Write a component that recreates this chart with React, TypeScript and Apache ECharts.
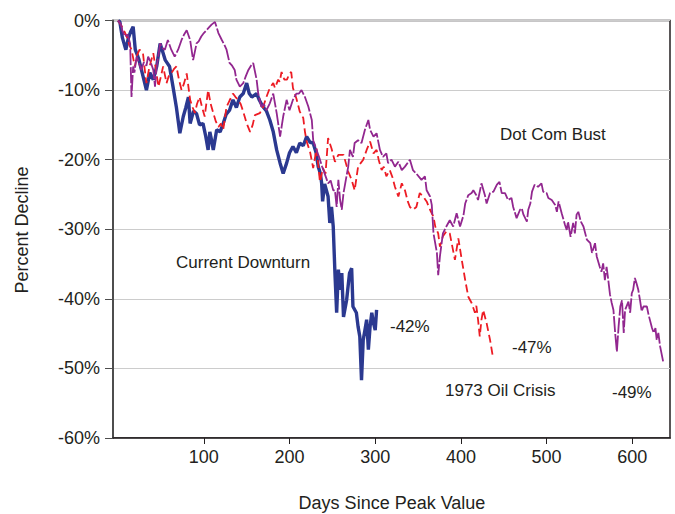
import React, { useEffect, useRef } from "react";
import * as echarts from "echarts";

// Days since peak (x) and percent decline (y)
const currentDownturn: [number, number][] = [
  [0, 0], [2, -0.2], [5, -2.5], [9, -4.2], [12, -2.5], [15, -1.5], [17.5, -0.9], [20, -4.2], [24, -5.5],
  [28, -7.5], [33, -10], [37, -7.5], [41, -8.5], [45, -6.6], [49, -3.3], [52, -4.5], [55, -5.7], [60, -6.6],
  [64, -9.5], [68, -12.5], [72, -16.2], [76, -13.8], [79, -12.5], [82, -11], [84, -14.8], [88, -13],
  [91.5, -13.4], [95, -15], [99, -14.8], [102, -16.5], [105, -18.6], [107, -16], [109, -17.2], [111, -18.6],
  [115, -15.7], [119, -16], [122.6, -14.8], [126, -13.5], [130, -12.9], [134, -11.4], [138, -12.5],
  [142, -11], [146, -10.5], [150, -9], [153, -10.5], [156, -11], [161.6, -10.5], [165, -11.5], [169, -12.4],
  [173, -13], [177, -14.3], [181, -16], [185, -18.6], [189, -20.5], [192.6, -22], [196.6, -20.5], [200, -19],
  [204, -18.1], [208, -19], [212, -17.6], [216, -18], [220, -16.7], [224, -17.5], [227.6, -17.6], [231, -19],
  [233.5, -21], [236, -22], [237.5, -23.4], [238.6, -26], [241, -23.5], [245, -25.3], [247, -29.1],
  [249, -26.8], [251, -29.6], [253, -36.3], [255, -42], [257, -35.8], [259, -38.7], [261, -36.3],
  [263, -42.6], [266.6, -40.2], [270, -36.3], [272.5, -35.6], [274, -41.1], [278, -42], [280, -44],
  [282, -45.4], [284, -51.7], [286, -45.9], [288, -44.5], [290, -43], [292, -47.3], [294, -44], [296, -42],
  [298, -43.5], [300, -44.5], [301.6, -41.6],
];

const oilCrisis1973: [number, number][] = [
  [0, 0], [4, -0.8], [7, -1.5], [10, -2.3], [13, -3.5], [15.6, -4.2], [19.5, -6.6], [22, -5], [25, -4.2],
  [29, -4.7], [31, -7], [33, -9], [36, -7], [38, -6], [41, -4.7], [44, -7], [47, -9.5], [50, -8], [52.5, -6.6],
  [56.5, -9], [59, -8], [62, -7.6], [65, -7], [68, -6.6], [71, -8.5], [74, -10], [77, -9], [80, -7.6],
  [84, -11.4], [87, -12.5], [89.5, -13.3], [92, -12], [95, -11], [98, -12.5], [101, -13.8], [105, -10],
  [108, -12], [111, -13.3], [114, -14.5], [117, -15.3], [120, -14.8], [122.6, -15.7], [126.5, -12.4],
  [130, -11.5], [134, -10.5], [137, -11], [140, -11.4], [143, -12], [146, -13.1], [150, -14.8], [154, -16],
  [157, -15], [159.6, -13.6], [165.4, -13.3], [169, -12.5], [173, -11], [177, -9.7], [181, -9],
  [183, -9.7], [186.8, -8.5], [188.5, -8.8], [190.7, -7.4], [194, -8.5], [197, -8.5], [200, -7.6],
  [202, -7.4], [204, -9.7], [208, -11.2], [212, -13.1], [216, -14], [218, -16], [220, -17.4], [224, -18.9],
  [227.6, -21.2], [231.6, -18.4], [235.5, -23.2], [239, -21.2], [242, -22], [245, -16.9], [249, -18.4],
  [253, -20.3], [257, -19.3], [263, -19.3], [268.5, -21.7], [272.5, -22.9], [276, -24.4], [280, -21],
  [283, -20.5], [286, -20], [290, -18.6], [294, -17.4], [298, -19.1], [301.6, -18.6], [304, -20],
  [307.5, -21.5], [310, -21], [313, -22.4], [317, -21.5], [320, -22.5], [323, -23.9], [327, -25.3],
  [331, -23.4], [334.7, -24.4], [338, -26], [340.5, -26.8], [344, -27.2], [348, -26.8], [352, -24.8],
  [356, -25.3], [360, -26], [364, -27.2], [368, -28.2], [370, -29.6], [373.5, -30.6], [375.5, -32.5],
  [379, -31], [383, -30.3], [387, -30.6], [390, -32.5], [393, -34.4], [397, -31.3], [401, -34.4],
  [405, -37.3], [408.6, -39.7], [412.5, -40.6], [416.4, -42], [418, -41], [420, -43], [422, -45.4],
  [424, -43], [426, -41.6], [430, -43.5], [434, -45.9], [437, -48.1],
];

const dotComBust: [number, number][] = [
  [0, 0], [3, -0.5], [5, -1.5], [8, -2.3], [11, -2], [14, -3.3], [15.6, -11], [17.5, -6.6], [19, -7.5],
  [21.5, -5.2], [24, -6], [27, -7.1], [30, -6], [33, -6.5], [35, -5.2], [38, -6], [41, -7.1], [43, -9.5],
  [45, -6.6], [47, -5], [49, -3.3], [52, -4], [54.5, -4.2], [58, -2.8], [62, -4.2], [66, -5.2], [70, -4.2],
  [74, -2.8], [77, -2], [80, -1.4], [84, -2.8], [87.5, -5.7], [91.5, -3.3], [94, -3], [97, -2.3],
  [100, -1.8], [103, -1.4], [106, -1], [109, -0.6], [113, -0.2], [117, -1.8], [121, -2.8], [124, -3.5],
  [126.5, -4.2], [130, -6.1], [133, -6.5], [136, -7.1], [138, -8.5], [142, -9.5], [146, -9], [149, -8],
  [152, -7.1], [155, -6.5], [157.6, -6.1], [161.6, -8.5], [163.5, -10.5], [167, -12.4], [170, -12],
  [173, -12.9], [177, -11.9], [181, -10.5], [185, -13.3], [189, -16.7], [192.6, -13.8], [196.6, -11.4],
  [200, -12.9], [204, -11.4], [208, -10.5], [211, -10.5], [214, -10], [218, -11], [222, -12.4],
  [226, -14.3], [227.6, -17.2], [231.6, -18.6], [235.5, -20], [238, -21], [241, -22], [245, -23.4],
  [248, -23], [251, -24.4], [253, -24.4], [255, -26.8], [257, -22.9], [259, -25.8], [261, -27.2],
  [263, -24.8], [265, -23.4], [268.5, -21], [270.5, -18.6], [274, -19.6], [276, -17.6], [280, -17.2],
  [284, -17.6], [288, -15.7], [292, -14.3], [294, -15.7], [298, -16.7], [301.6, -16.2], [305.5, -18.6],
  [309, -19.6], [313, -19.1], [315, -20.5], [319, -20], [323, -21], [327, -20.3], [331, -21.5],
  [334.7, -21], [340.5, -20], [344, -21.5], [348, -22], [354, -22.9], [358, -22.4], [360, -24.4],
  [364, -25.3], [366, -26.5], [368, -30.6], [370, -32], [372, -33.4], [373.5, -36.6], [375.5, -33.9],
  [379, -30.6], [383, -29.6], [387, -28.7], [391, -29.6], [395, -27.7], [399, -29.6], [403, -28],
  [405, -26.3], [408.6, -25.1], [412.5, -24.8], [414.5, -24.4], [418, -25.1], [420, -25.8], [424, -23.4],
  [428, -25.1], [430, -26.3], [434, -24.8], [438, -24.6], [442, -23.6], [445, -23.2], [447.6, -24.8],
  [451.5, -24.8], [455, -25.8], [459, -25.5], [461, -26.8], [465, -28.4], [469, -27.2], [471, -27],
  [473, -27.9], [477, -28.9], [478.6, -27.2], [481, -26.3], [483, -24.6], [486, -23.6], [490, -23.9],
  [494, -23.4], [496, -24.6], [500, -24.8], [502, -25.5], [506, -25.8], [510, -26.5], [512, -27.5],
  [514, -26], [517.6, -27.7], [521.5, -29.4], [523.5, -30.1], [525, -28.9], [528, -31.1], [531, -29.1],
  [533, -30.6], [535, -27.9], [537, -27.5], [540, -28.9], [543, -29.6], [547, -31.5], [551, -32],
  [553, -33.4], [556.5, -32], [558.5, -33.9], [562, -35.4], [564, -36.1], [566, -34.9], [568, -37.3],
  [570, -35.4], [572, -37.3], [574, -39.4], [576, -40.6], [578, -41.6], [580, -44.9], [582, -47.6],
  [584, -44], [586, -41.1], [588, -40.2], [590, -44.9], [591.6, -41.6], [595.5, -40.4], [597.5, -42],
  [599.4, -39.2], [601, -38.7], [603, -37], [605, -37.8], [607, -38.7], [609, -40.2], [611, -41.8],
  [613, -41.1], [617, -41.1], [619, -42.3], [623, -44.2], [625, -44.9], [627, -44.2], [628.5, -45.9],
  [630.4, -44.9], [632.4, -46.8], [636, -49],
];

const xTickValues = [100, 200, 300, 400, 500, 600];
const yMin = -60;
const yMax = 0;
const yStep = 10;
const xMin = -6;
const xMax = 644;

const annotations = [
  { text: "Current Downturn", x: 176, y: 262 },
  { text: "Dot Com Bust", x: 500, y: 134 },
  { text: "-42%", x: 390, y: 326 },
  { text: "-47%", x: 512, y: 347 },
  { text: "1973 Oil Crisis", x: 445, y: 390 },
  { text: "-49%", x: 612, y: 392 },
];

const FONT = "'Liberation Sans', Arial, Helvetica, sans-serif";
const TEXT = "#231f20";

export default function App() {
  const ref = useRef<HTMLDivElement>(null);
  useEffect(() => {
    if (!ref.current) return;
    const chart = echarts.init(ref.current, undefined, { renderer: "svg" });
    chart.setOption({
      animation: false,
      backgroundColor: "#ffffff",
      textStyle: { fontFamily: FONT },
      grid: {
        left: 113, right: 5, top: 20.5, bottom: 76,
        show: true, borderColor: "#231f20", borderWidth: 1.5, backgroundColor: "transparent",
      },
      xAxis: {
        type: "value", min: xMin, max: xMax,
        axisLine: { show: true, onZero: false, lineStyle: { color: "#231f20", width: 1.5 } },
        axisTick: { show: true, customValues: xTickValues, length: 6, lineStyle: { color: "#231f20", width: 1 } },
        axisLabel: { customValues: xTickValues, fontSize: 18, color: TEXT, margin: 10, fontFamily: FONT },
        splitLine: { show: false },
      },
      yAxis: {
        type: "value", min: yMin, max: yMax, interval: yStep,
        axisLine: { show: true, onZero: false, lineStyle: { color: "#4d4d4d", width: 2 } },
        axisTick: { show: true, length: 8, lineStyle: { color: "#4d4d4d", width: 1 } },
        axisLabel: { formatter: (v: number) => `${v}%`, fontSize: 18, color: TEXT, margin: 13, fontFamily: FONT },
        splitLine: { show: true, lineStyle: { color: "#cccccc", width: 1.2 } },
      },
      series: [
        {
          name: "Current Downturn", type: "line", data: currentDownturn, symbol: "none", showSymbol: false,
          lineStyle: { color: "#2b3990", width: 3.4 }, z: 2,
        },
        {
          name: "1973 Oil Crisis", type: "line", data: oilCrisis1973, symbol: "none", showSymbol: false,
          lineStyle: { color: "#ed1c24", width: 1.8, type: [8, 4] }, z: 3,
        },
        {
          name: "Dot Com Bust", type: "line", data: dotComBust, symbol: "none", showSymbol: false,
          lineStyle: { color: "#92278f", width: 1.8, type: [16, 2] }, z: 4,
        },
      ],
      graphic: [
        ...annotations.map((a) => ({
          type: "text", x: a.x, y: a.y, z: 10,
          style: { text: a.text, fill: TEXT, font: `17px ${FONT}`, textAlign: "left", textVerticalAlign: "middle" },
        })),
        {
          type: "text", x: 22, y: 230, rotation: Math.PI / 2, z: 10,
          style: { text: "Percent Decline", fill: TEXT, font: `18px ${FONT}`, textAlign: "center", textVerticalAlign: "middle" },
        },
        {
          type: "text", x: 392, y: 503, z: 10,
          style: { text: "Days Since Peak Value", fill: TEXT, font: `18px ${FONT}`, textAlign: "center", textVerticalAlign: "middle" },
        },
      ],
    });
    return () => chart.dispose();
  }, []);
  return <div ref={ref} style={{ position: "absolute", left: 0, top: 0, width: 675, height: 514 }} />;
}
